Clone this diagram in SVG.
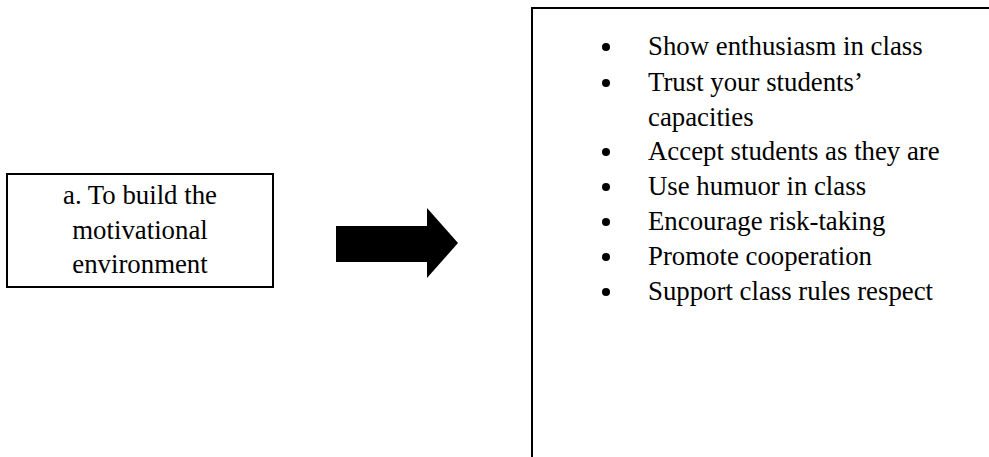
<svg xmlns="http://www.w3.org/2000/svg" width="989" height="457" viewBox="0 0 989 457">
<style>
text{font-family:"Liberation Serif","Times New Roman",serif;font-size:26.8px;fill:#000}
.c{text-anchor:middle}
.box{fill:none;stroke:#000;stroke-width:2}
</style>
<rect width="989" height="457" fill="#fff"/>
<g id="source">
<rect class="box" x="7" y="174" width="266" height="113"/>
<text class="c" x="140" y="204">a. To build the</text>
<text class="c" x="140" y="239">motivational</text>
<text class="c" x="140" y="273">environment</text>
</g>
<g id="connectors">
<polygon points="336,226 427,226 427,208 458,243 427,278 427,262 336,262" fill="#000"/>
</g>
<g id="list">
<path class="box" d="M532,457 V8 H989"/>
<g fill="#000">
<circle cx="606" cy="47" r="4"/>
<circle cx="606" cy="83" r="4"/>
<circle cx="606" cy="152" r="4"/>
<circle cx="606" cy="187" r="4"/>
<circle cx="606" cy="222" r="4"/>
<circle cx="606" cy="257" r="4"/>
<circle cx="606" cy="292" r="4"/>
</g>
<text x="648" y="55">Show enthusiasm in class</text>
<text x="648" y="91">Trust your students’</text>
<text x="648" y="126">capacities</text>
<text x="648" y="160">Accept students as they are</text>
<text x="648" y="195">Use humuor in class</text>
<text x="648" y="230">Encourage risk-taking</text>
<text x="648" y="265">Promote cooperation</text>
<text x="648" y="300">Support class rules respect</text>
</g>
</svg>
